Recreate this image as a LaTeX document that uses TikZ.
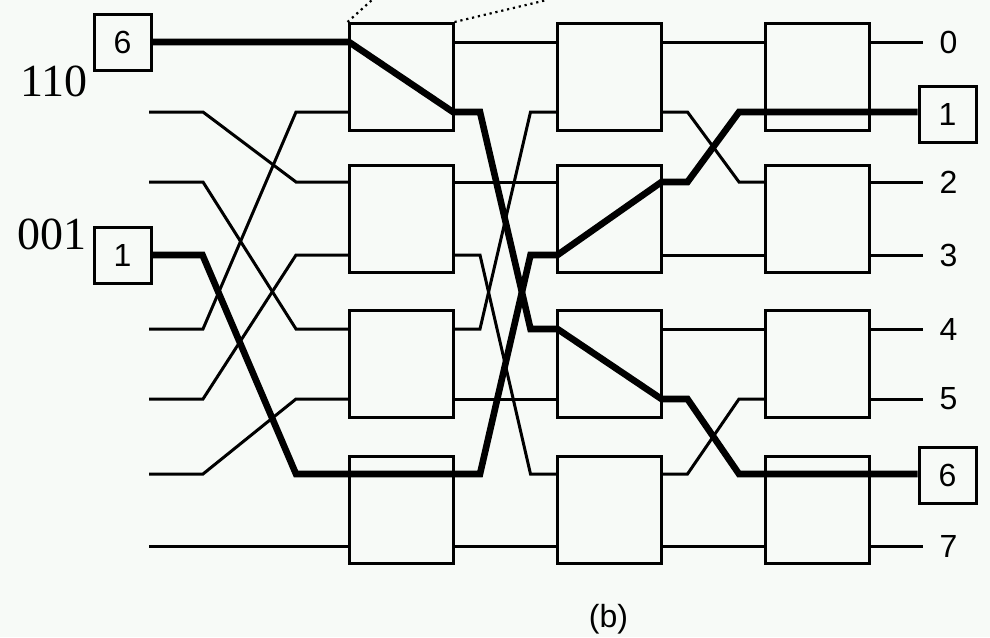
\documentclass[tikz,border=0pt]{standalone}
\usepackage{fontspec}
\setmainfont{Liberation Serif}
\setsansfont{Liberation Sans}
\usetikzlibrary{calc}
\definecolor{paper}{HTML}{F7FAF7}
\begin{document}
\begin{tikzpicture}[x=0.5pt, y=-0.5pt,
    wire/.style={line width=1.5pt},
    route/.style={line width=3.3pt},
    switchbox/.style={draw, line width=1.5pt, minimum width=52pt, minimum height=53.5pt, inner sep=0pt},
    portbox/.style={draw, line width=1.5pt, minimum width=28.5pt, minimum height=28pt, inner sep=0pt, font=\sffamily\fontsize{16}{16}\selectfont},
    portnum/.style={inner sep=0pt, font=\sffamily\fontsize{16}{16}\selectfont},
    addr/.style={inner sep=0pt, font=\fontsize{23}{23}\selectfont},
    dotline/.style={line width=1.1pt, dash pattern=on 1.1pt off 1.9pt}]
  \fill[paper] (0,0) rectangle (990,637);
  \useasboundingbox (0,0) rectangle (990,637);
  % switch boxes, three columns of four
  \foreach \c/\cx in {1/401, 2/609.5, 3/817}
    \foreach \b/\by in {0/77, 1/218.5, 2/364, 3/510}
      \node[switchbox] (s\c\b) at (\cx,\by) {};
  % ports on the box sides, one per line
  \foreach \c/\xl/\xr in {1/349/453, 2/557.5/661.5, 3/765/869}
    \foreach \i/\y in {0/42, 1/112, 2/182, 3/255, 4/329, 5/399, 6/474, 7/546} {
      \coordinate (i\c\i) at (\xl,\y);
      \coordinate (o\c\i) at (\xr,\y);
    }
  % inputs
  \foreach \i/\y in {1/112, 2/182, 4/329, 5/399, 6/474, 7/546}
    \coordinate (in\i) at (149,\y);
  \node[portbox] (src6) at (122.5,42) {6};
  \node[portbox] (src1) at (122.5,255) {1};
  \node[addr] (a6) at (54,81) {110};
  \node[addr] (a1) at (52.5,234) {001};
  % outputs
  \node[portbox] (dst1) at (947.5,114) {1};
  \node[portbox] (dst6) at (947.5,475) {6};
  \foreach \i/\y in {0/42, 2/182, 3/255, 4/329, 5/399, 7/546} {
    \node[portnum] (n\i) at (948.5,\y) {\i};
    \draw[wire, shorten >=8pt] (o3\i) -- (n\i.west);
  }
  % first stage: perfect shuffle
  \foreach \a/\b in {1/2, 2/4, 4/1, 5/3, 6/5, 7/7}
    \draw[wire] (in\a) -- ++(54,0) -- ($(i1\b)+(-53,0)$) -- (i1\b);
  % second stage
  \foreach \a/\b in {0/0, 2/2, 3/6, 4/1, 5/5, 7/7}
    \draw[wire] (o1\a) -- ++(27,0) -- ($(i2\b)+(-27,0)$) -- (i2\b);
  % third stage
  \foreach \a/\b in {0/0, 1/2, 3/3, 4/4, 6/5, 7/7}
    \draw[wire] (o2\a) -- ++(26,0) -- ($(i3\b)+(-26,0)$) -- (i3\b);
  % route 110 -> 6
  \draw[route] (src6.east) -- (i10) -- (o11) -- ++(27,0) -- ($(i24)+(-27,0)$) -- (i24)
    -- (o25) -- ++(26,0) -- ($(i36)+(-26,0)$) -- (i36) -- (o36) -- (dst6.west |- o36);
  % route 001 -> 1
  \draw[route] (src1.east) -- ++(50,0) -- ($(i16)+(-53,0)$) -- (i16) -- (o16) -- ++(27,0)
    -- ($(i23)+(-27,0)$) -- (i23) -- (o22) -- ++(26,0) -- ($(i31)+(-26,0)$) -- (i31)
    -- (o31) -- (dst1.west |- o31);
  % dotted lines up to the enlarged switch
  \coordinate (zl) at (372,0);
  \coordinate (zr) at (547,0);
  \draw[dotline] (s10.north west) -- (zl);
  \draw[dotline] (s10.north east) -- (zr);
  \node[portnum] (cap) at (608.5,619) {(b)};
\end{tikzpicture}
\end{document}
